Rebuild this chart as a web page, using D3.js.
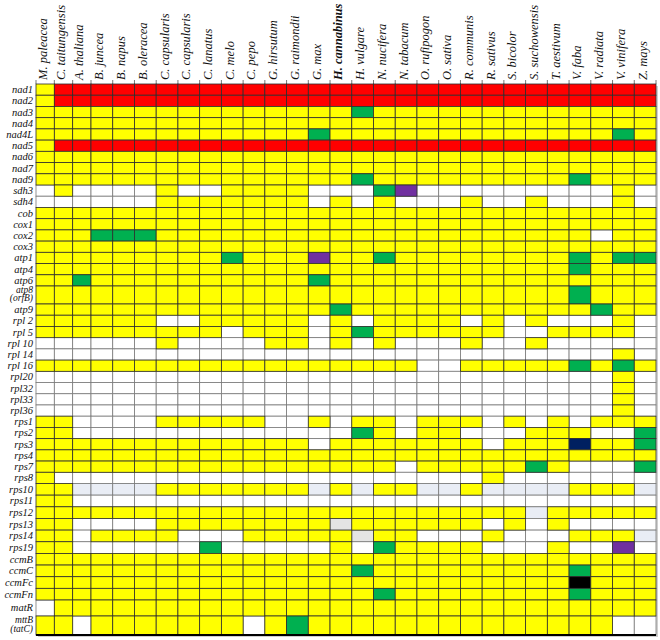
<!DOCTYPE html>
<html>
<head>
<meta charset="utf-8">
<script src="https://cdn.jsdelivr.net/npm/d3@7"></script>
<style>
  body { margin: 0; background: #fff; }
  svg text { font-family: "Liberation Serif", "Times New Roman", serif; font-style: italic; fill: #111; }
</style>
</head>
<body>
<svg id="chart" width="660" height="640"></svg>
<script>
// species across the top
const species = ['M. paleacea', 'C. taitungensis', 'A. thaliana', 'B. juncea', 'B. napus',
  'B. oleracea', 'C. capsularis', 'C. capsularis', 'C. lanatus', 'C. melo', 'C. pepo',
  'G. hirsutum', 'G. raimondii', 'G. max', 'H. cannabinus', 'H. vulgare', 'N. nucifera',
  'N. tabacum', 'O. rufipogon', 'O. sativa', 'R. communis', 'R. sativus', 'S. bicolor',
  'S. suchowensis', 'T. aestivum', 'V. faba', 'V. radiata', 'V. vinifera', 'Z. mays']
const highlighted = ['H. cannabinus']

// gene rows ('|' = second line of the label)
const genes = ['nad1', 'nad2', 'nad3', 'nad4', 'nad4L', 'nad5', 'nad6', 'nad7', 'nad9',
  'sdh3', 'sdh4', 'cob', 'cox1', 'cox2', 'cox3', 'atp1', 'atp4', 'atp6', 'atp8|(orfB)',
  'atp9', 'rpl 2', 'rpl 5', 'rpl 10', 'rpl 14', 'rpl 16', 'rpl20', 'rpl32', 'rpl33',
  'rpl36', 'rps1', 'rps2', 'rps3', 'rps4', 'rps7', 'rps8', 'rps10', 'rps11', 'rps12',
  'rps13', 'rps14', 'rps19', 'ccmB', 'ccmC', 'ccmFc', 'ccmFn', 'matR', 'mttB|(tatC)']

// one code per species, one string per gene
// Y present, R red, G green, P purple, W absent, L pale blue, E pale grey, N navy, K black
const status = [
  'YRRRRRRRRRRRRRRRRRRRRRRRRRRRR', // nad1
  'YRRRRRRRRRRRRRRRRRRRRRRRRRRRR', // nad2
  'YYYYYYYYYYYYYYYGYYYYYYYYYYYYY', // nad3
  'YYYYYYYYYYYYYYYYYYYYYYYYYYYYY', // nad4
  'YYYYYYYYYYYYYGYYYYYYYYYYYYYGY', // nad4L
  'YRRRRRRRRRRRRRRRRRRRRRRRRRRRR', // nad5
  'YYYYYYYYYYYYYYYYYYYYYYYYYYYYY', // nad6
  'YYYYYYYYYYYYYYYYYYYYYYYYYYYYY', // nad7
  'YYYYYYYYYYYYYYYGYYYYYYYYYGYYY', // nad9
  'WYWWWWYWWYYYYWWWGPWWWWWWWWWYW', // sdh3
  'WWWWWWYYYYYYYWYWYWWWYWWYWWWYW', // sdh4
  'YYYYYYYYYYYYYYYYYYYYYYYYYYYYY', // cob
  'YYYYYYYYYYYYYYYYYYYYYYYYYYYYY', // cox1
  'YYYGGGYYYYYYYYYYYYYYYYYYYYWYY', // cox2
  'YYYYYYYYYYYYYYYYYYYYYYYYYYYYY', // cox3
  'YYYYYYYYYGYYYPYYGYYYYYYYYGYGG', // atp1
  'YYYYYYYYYYYYYYYYYYYYYYYYYGYYY', // atp4
  'YYGYYYYYYYYYYGYYYYYYYYYYYYYYY', // atp6
  'YYYYYYYYYYYYYYYYYYYYYYYYYGYYY', // atp8
  'YYYYYYYYYYYYYYGYYYYYYYYYYYGYY', // atp9
  'YYYYYYWWYYYYYWYWYYYYWYWYWWWYW', // rpl2
  'YYYYYYYYYWYYYWYGYYYYYYWWYYYYW', // rpl5
  'WWWWWWYWWWWYYWYWYWWWYWWYWWWWW', // rpl10
  'WWWWWWWWWWWWWWWWWWWWWWWWWWWYW', // rpl14
  'YYYYYYYYYYYYYYYYYYWWYYYYYGYGY', // rpl16
  'WWWWWWWWWWWWWWWWWWWWWWWWWWWYW', // rpl20
  'WWWWWWWWWWWWWWWWWWWWWWWWWWWYW', // rpl32
  'WWWWWWWWWWWWWWWWWWWWWWWWWWWYW', // rpl33
  'WWWWWWWWWWWWWWWWWWWWWWWWWWWYW', // rpl36
  'YYWWWWYYYYYWWYWYYWYYYWYWYWYYY', // rps1
  'YYWWWWWWWWWWWWWGYWYYWWWYYYWWG', // rps2
  'YYYYYYYYYYYYYWYYYYYYYWYYYNYYG', // rps3
  'YYYYYYYYYYYYYYYYYYYYYYYYYYYYY', // rps4
  'YYYYYYYYYYYYYYYYYWYYYYYGYWWWG', // rps7
  'YWWWWWWWWWWWWWWWWWWWWYWWWWWWW', // rps8
  'YYLLLLYYYYYYYLYLYYLLYLLLLYYYL', // rps10
  'YYWWWWWWWWWWWWWWWWWWWWWWWWWWW', // rps11
  'YYYYYYYYYYYYYYYYYYYYYYYLYYYYY', // rps12
  'YYWWWWYYYYYYYYEYYYYYYWYWYWWWW', // rps13
  'YYWYYYYWWWYYYYYEYYWWWYWWWYYYL', // rps14
  'YYWWWWWWGWWWWWYWGYYYYWWWYWWPW', // rps19
  'YYYYYYYYYYYYYYYYYYYYYYYYYYYYY', // ccmB
  'YYYYYYYYYYYYYYYGYYYYYYYYYGYYY', // ccmC
  'YYYYYYYYYYYYYYYYYYYYYYYYYKYYY', // ccmFc
  'YYYYYYYYYYYYYYYYGYYYYYYYYGYYY', // ccmFn
  'WYYYYYYYYYYYYYYYYYYYYYYYYYYYY', // matR
  'YYWYYYYYYYWYGYYYYYYYYYYYYYYWW'  // mttB
]

const codes = ['Y', 'R', 'G', 'P', 'W', 'L', 'E', 'N', 'K']

const svg = d3.select('#chart')

// first three columns are narrower, a few rows are taller
const x = d3.scaleLinear().domain([0, 3, species.length]).range([36, 91, 656])
const y = d3.scaleLinear().domain([0, 18, 19, 35, 45, 46, genes.length])
  .range([84, 286, 304, 483.5, 600, 616, 635])

const color = d3.scaleOrdinal()
  .domain(codes)
  .range(['#ffff00', '#ff0000', '#00b050', '#7030a0', '#ffffff', '#e9edf5', '#e4e4e4', '#002060', '#000000'])

const pale = ['W', 'L', 'E']

let cells = []
status.forEach((row, r) => {
  row.split('').forEach((c, i) => cells.push({ r: r, i: i, c: c }))
})
// pale cells first so dark borders win on shared edges
cells.sort((a, b) => (pale.includes(b.c) ? 1 : 0) - (pale.includes(a.c) ? 1 : 0))

// shadow
svg.append('rect')
  .attr('x', x(0) + 2).attr('y', y(0) + 2)
  .attr('width', x(species.length) - x(0)).attr('height', y(genes.length) - y(0))
  .attr('fill', '#cfcfcf')

// little ticks above the grid
svg.append('g').selectAll('line')
  .data(d3.range(species.length + 1))
  .join('line')
  .attr('x1', d => x(d)).attr('x2', d => x(d))
  .attr('y1', y(0) - 4).attr('y2', y(0))
  .attr('stroke', '#555').attr('stroke-width', 0.8)

svg.append('g').selectAll('rect')
  .data(cells)
  .join('rect')
  .attr('x', d => x(d.i))
  .attr('y', d => y(d.r))
  .attr('width', d => x(d.i + 1) - x(d.i))
  .attr('height', d => y(d.r + 1) - y(d.r))
  .attr('fill', d => color(d.c))
  .attr('stroke', d => pale.includes(d.c) ? '#7a7a7a' : '#2e2e2e')
  .attr('stroke-width', 0.8)

// heavy bottom rule
svg.append('line')
  .attr('x1', x(0)).attr('x2', x(species.length))
  .attr('y1', y(genes.length)).attr('y2', y(genes.length))
  .attr('stroke', '#000').attr('stroke-width', 1.8)

// row labels
let rowLabels = svg.append('g').selectAll('text')
  .data(genes)
  .join('text')
  .attr('text-anchor', 'end')
  .attr('font-size', d => d.includes('|') ? 9.5 : 10.5)
  .attr('transform', (d, r) => `translate(33, ${(y(r) + y(r + 1)) / 2})`)

rowLabels.each(function (d) {
  let parts = d.split('|')
  let t = d3.select(this)
  if (parts.length === 1) {
    t.append('tspan').attr('x', 0).attr('dy', '0.33em').text(parts[0])
  } else {
    t.append('tspan').attr('x', 0).attr('y', -2.2).text(parts[0])
    t.append('tspan').attr('x', 0).attr('y', 6.3).text(parts[1])
  }
})

// column labels
svg.append('g').selectAll('text')
  .data(species)
  .join('text')
  .attr('font-size', 12.5)
  .attr('font-weight', d => highlighted.includes(d) ? 'bold' : 'normal')
  .attr('transform', (d, i) => `translate(${(x(i) + x(i + 1)) / 2 + 1.5}, 80) rotate(-90)`)
  .text(d => d)
</script>
</body>
</html>
